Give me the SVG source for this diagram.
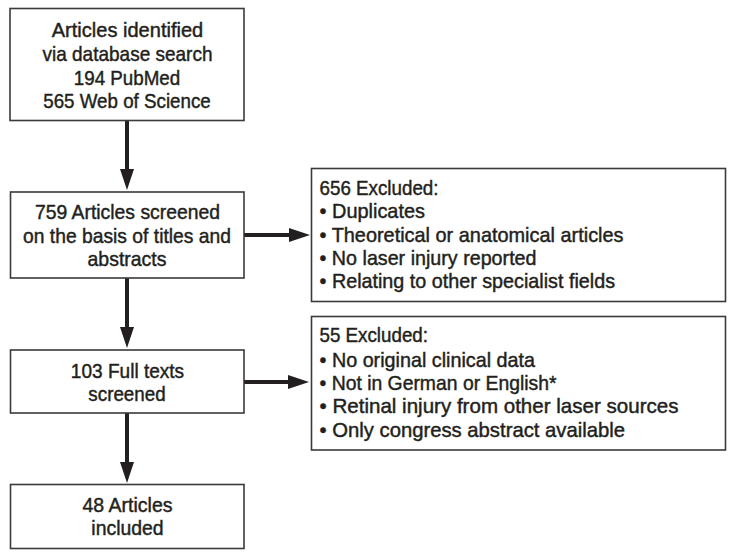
<svg xmlns="http://www.w3.org/2000/svg" width="740" height="558" viewBox="0 0 740 558">
<defs>
<style>
.box{fill:#fff;stroke:#3a3a3a;stroke-width:1.6}
.t{font-family:"Liberation Sans",Arial,sans-serif;font-size:21px;fill:#231f20;stroke:#231f20;stroke-width:0.45px}
.c{text-anchor:middle}
.conn{stroke:#231f20;stroke-width:4;fill:none;marker-end:url(#ah)}
</style>
<marker id="ah" markerUnits="userSpaceOnUse" markerWidth="22" markerHeight="14" refX="13" refY="7" orient="auto">
<path d="M0,0 L21,7 L0,14 z" fill="#231f20"/>
</marker>
</defs>
<rect width="740" height="558" fill="#fff"/>
<g id="connectors">
<line class="conn" x1="127" y1="121" x2="127" y2="182"/>
<line class="conn" x1="127" y1="278" x2="127" y2="340"/>
<line class="conn" x1="127" y1="413" x2="127" y2="475"/>
<line class="conn" x1="244" y1="235" x2="302" y2="235"/>
<line class="conn" x1="244" y1="382" x2="301" y2="382"/>
</g>
<g id="identified">
<rect class="box" x="10" y="8.5" width="234" height="112"/>
<text class="t c" x="127.5" y="37" textLength="151.5" lengthAdjust="spacingAndGlyphs">Articles identified</text>
<text class="t c" x="127.5" y="61" textLength="170" lengthAdjust="spacingAndGlyphs">via database search</text>
<text class="t c" x="127" y="84.5" textLength="106.5" lengthAdjust="spacingAndGlyphs">194 PubMed</text>
<text class="t c" x="127" y="108" textLength="167.5" lengthAdjust="spacingAndGlyphs">565 Web of Science</text>
</g>
<g id="screened">
<rect class="box" x="10.5" y="192" width="233.5" height="86"/>
<text class="t c" x="127.5" y="219" textLength="185" lengthAdjust="spacingAndGlyphs">759 Articles screened</text>
<text class="t c" x="127" y="243" textLength="208" lengthAdjust="spacingAndGlyphs">on the basis of titles and</text>
<text class="t c" x="127" y="266" textLength="79" lengthAdjust="spacingAndGlyphs">abstracts</text>
</g>
<g id="excluded1">
<rect class="box" x="311.5" y="168.5" width="414" height="133"/>
<text class="t" x="319.5" y="195" textLength="119" lengthAdjust="spacingAndGlyphs">656 Excluded:</text>
<text class="t" x="319.5" y="218" textLength="105.5" lengthAdjust="spacingAndGlyphs">• Duplicates</text>
<text class="t" x="319.5" y="242" textLength="304" lengthAdjust="spacingAndGlyphs">• Theoretical or anatomical articles</text>
<text class="t" x="319.5" y="265" textLength="217" lengthAdjust="spacingAndGlyphs">• No laser injury reported</text>
<text class="t" x="319.5" y="288" textLength="295.5" lengthAdjust="spacingAndGlyphs">• Relating to other specialist fields</text>
</g>
<g id="fulltexts">
<rect class="box" x="10.5" y="350" width="233.5" height="63"/>
<text class="t c" x="127.5" y="378" textLength="113.3" lengthAdjust="spacingAndGlyphs">103 Full texts</text>
<text class="t c" x="127" y="401" textLength="77.3" lengthAdjust="spacingAndGlyphs">screened</text>
</g>
<g id="excluded2">
<rect class="box" x="311.5" y="316.5" width="414" height="133.5"/>
<text class="t" x="319.5" y="342" textLength="108.5" lengthAdjust="spacingAndGlyphs">55 Excluded:</text>
<text class="t" x="319.5" y="366.5" textLength="215.5" lengthAdjust="spacingAndGlyphs">• No original clinical data</text>
<text class="t" x="319.5" y="390" textLength="237" lengthAdjust="spacingAndGlyphs">• Not in German or English*</text>
<text class="t" x="319.5" y="413" textLength="359" lengthAdjust="spacingAndGlyphs">• Retinal injury from other laser sources</text>
<text class="t" x="319.5" y="436.5" textLength="305.5" lengthAdjust="spacingAndGlyphs">• Only congress abstract available</text>
</g>
<g id="included">
<rect class="box" x="10.5" y="484.5" width="233.5" height="64"/>
<text class="t c" x="127.5" y="512" textLength="90" lengthAdjust="spacingAndGlyphs">48 Articles</text>
<text class="t c" x="127.5" y="535" textLength="72.3" lengthAdjust="spacingAndGlyphs">included</text>
</g>
</svg>
